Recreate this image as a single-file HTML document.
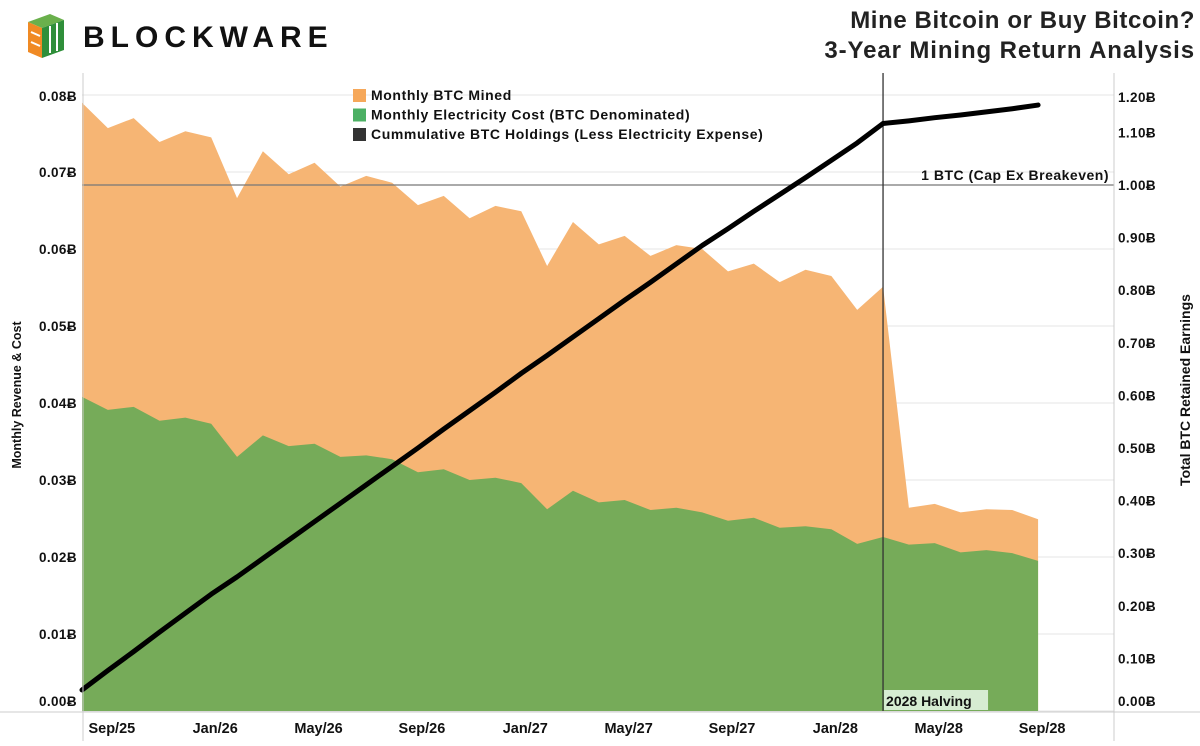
<!DOCTYPE html>
<html><head><meta charset="utf-8">
<style>
html,body{margin:0;padding:0;background:#fff;}
body{width:1200px;height:741px;overflow:hidden;font-family:"Liberation Sans",sans-serif;}
svg text{font-family:"Liberation Sans",sans-serif;font-weight:bold;}
</style></head>
<body>
<svg id="chart" width="1200" height="741" viewBox="0 0 1200 741" xmlns="http://www.w3.org/2000/svg">
  <g>
    <polygon points="28,22 50,14 64,20 42,28" fill="#6ab04c"/>
    <polygon points="28,22 42,28 42,58 28,52" fill="#f08a24"/>
    <polygon points="42,28 64,20 64,50 42,58" fill="#2f8f3a"/>
    <line x1="31" y1="32" x2="40" y2="36" stroke="#fff" stroke-width="2"/>
    <line x1="31" y1="42" x2="40" y2="46" stroke="#fff" stroke-width="2"/>
    <line x1="50" y1="26" x2="50" y2="53" stroke="#fff" stroke-width="2"/>
    <line x1="57" y1="23" x2="57" y2="51" stroke="#fff" stroke-width="2"/>
    <text x="83" y="47" font-size="30" fill="#111" letter-spacing="6">BLOCKWARE</text>
  </g>
  <text x="1195" y="28" font-size="24" fill="#222" text-anchor="end" letter-spacing="0.6">Mine Bitcoin or Buy Bitcoin?</text>
  <text x="1195" y="58" font-size="24" fill="#222" text-anchor="end" letter-spacing="0.9">3-Year Mining Return Analysis</text>
  <g id="plot"></g>
</svg>
<script>
const months = ["Aug/25","Sep/25","Oct/25","Nov/25","Dec/25","Jan/26","Feb/26","Mar/26","Apr/26","May/26","Jun/26","Jul/26","Aug/26","Sep/26","Oct/26","Nov/26","Dec/26","Jan/27","Feb/27","Mar/27","Apr/27","May/27","Jun/27","Jul/27","Aug/27","Sep/27","Oct/27","Nov/27","Dec/27","Jan/28","Feb/28","Mar/28","Apr/28","May/28","Jun/28","Jul/28","Aug/28","Sep/28"];
const btcMined = [0.0790,0.0757,0.0770,0.0739,0.0753,0.0745,0.0666,0.0727,0.0697,0.0712,0.0681,0.0695,0.0686,0.0657,0.0669,0.0640,0.0656,0.0649,0.0578,0.0635,0.0606,0.0617,0.0591,0.0605,0.0600,0.0571,0.0581,0.0557,0.0573,0.0565,0.0521,0.0551,0.0264,0.0269,0.0258,0.0262,0.0261,0.0249];
const electricityCost = [0.0408,0.0391,0.0395,0.0377,0.0381,0.0373,0.0330,0.0358,0.0344,0.0347,0.0330,0.0332,0.0327,0.0310,0.0314,0.0300,0.0303,0.0296,0.0262,0.0286,0.0271,0.0274,0.0261,0.0264,0.0258,0.0247,0.0251,0.0238,0.0240,0.0236,0.0217,0.0226,0.0216,0.0218,0.0206,0.0209,0.0205,0.0195];
const cumulativeHoldings = [0.040,0.077,0.113,0.150,0.186,0.222,0.255,0.290,0.325,0.360,0.395,0.430,0.465,0.500,0.536,0.571,0.606,0.642,0.676,0.711,0.746,0.781,0.815,0.850,0.885,0.917,0.950,0.982,1.014,1.047,1.080,1.117,1.122,1.128,1.133,1.139,1.145,1.152];
const leftTicks = [0,0.01,0.02,0.03,0.04,0.05,0.06,0.07,0.08];
const rightTicks = [0,0.1,0.2,0.3,0.4,0.5,0.6,0.7,0.8,0.9,1.0,1.1,1.2];
const xTickLabels = ["Sep/25","Jan/26","May/26","Sep/26","Jan/27","May/27","Sep/27","Jan/28","May/28","Sep/28"];
const breakevenValue = 1.0;
const halvingMonth = "Mar/28";

const NS = "http://www.w3.org/2000/svg";
const plot = document.getElementById('plot');
const X0 = 82, STEP = 25.84, YB = 711, LEFT_PX = 7700, RIGHT_PX = 526, XR = 1114, YT = 73;
const x = i => X0 + i * STEP;
const yL = v => YB - v * LEFT_PX;
const yR = v => YB - v * RIGHT_PX;
function mk(tag, attrs, parent) {
  const e = document.createElementNS(NS, tag);
  for (const k in attrs) e.setAttribute(k, attrs[k]);
  (parent || plot).appendChild(e);
  return e;
}
leftTicks.forEach(v => {
  const g = mk('line', {x1: X0, x2: XR, y1: yL(v), y2: yL(v), stroke: '#e6e6e6', 'stroke-width': 1});
  
  
});
let d = 'M' + x(0) + ',' + YB;
btcMined.forEach((v, i) => d += ' L' + x(i) + ',' + yL(v));
d += ' L' + x(btcMined.length - 1) + ',' + YB + ' Z';
const oa = mk('path', {d: d, fill: '#f6b574'});


d = 'M' + x(0) + ',' + YB;
electricityCost.forEach((v, i) => d += ' L' + x(i) + ',' + yL(v));
d += ' L' + x(electricityCost.length - 1) + ',' + YB + ' Z';
const ga = mk('path', {d: d, fill: '#76ab59'});


const bl = mk('line', {x1: X0, x2: XR, y1: yR(breakevenValue), y2: yR(breakevenValue), stroke: '#777', 'stroke-width': 1.2});


const bt = mk('text', {x: 1109, y: yR(breakevenValue) - 5, 'font-size': 14, 'text-anchor': 'end', fill: '#111', 'letter-spacing': 0.5});
bt.textContent = '1 BTC (Cap Ex Breakeven)';


const hi = months.indexOf(halvingMonth);
const hl = mk('line', {x1: x(hi), x2: x(hi), y1: YT, y2: YB, stroke: '#333', 'stroke-width': 1.3});


const hb = mk('rect', {x: x(hi) + 1, y: 690, width: 104, height: 20, fill: '#d6ecd2'});


const ht = mk('text', {x: x(hi) + 3, y: 706, 'font-size': 14, fill: '#111'});
ht.textContent = '2028 Halving';


const pts = cumulativeHoldings.map((v, i) => x(i) + ',' + yR(v)).join(' ');
const cl = mk('polyline', {points: pts, fill: 'none', stroke: '#000', 'stroke-width': 5, 'stroke-linejoin': 'round', 'stroke-linecap': 'round'});


const al = mk('line', {x1: X0 + 1, x2: X0 + 1, y1: YT, y2: 741, stroke: '#ccc', 'stroke-width': 1});


const ar = mk('line', {x1: XR, x2: XR, y1: YT, y2: 741, stroke: '#ccc', 'stroke-width': 1});


const ab = mk('line', {x1: 0, x2: 1200, y1: YB + 1, y2: YB + 1, stroke: '#ccc', 'stroke-width': 1});


leftTicks.forEach(v => {
  const yy = Math.max(Math.min(yL(v) + 5, 706), 101);
  const t = mk('text', {x: 77, y: yy, 'font-size': 13.5, 'text-anchor': 'end', fill: '#111', 'letter-spacing': 0.4});
  t.textContent = v.toFixed(2) + '\u0243';
  
  
});
rightTicks.forEach(v => {
  const yy = Math.max(Math.min(yR(v) + 5, 706), 102);
  const t = mk('text', {x: 1118, y: yy, 'font-size': 13.5, fill: '#111', 'letter-spacing': 0.4});
  t.textContent = v.toFixed(2) + '\u0243';
  
  
});
xTickLabels.forEach(lbl => {
  const i = months.indexOf(lbl);
  const t = mk('text', {x: x(i) + 4, y: 733, 'font-size': 14.5, 'text-anchor': 'middle', fill: '#111'});
  t.textContent = lbl;
  
  
});
const lt = mk('text', {x: 21, y: 395, 'font-size': 12.5, 'text-anchor': 'middle', fill: '#111', transform: 'rotate(-90 21 395)'});
lt.textContent = 'Monthly Revenue & Cost';


const rt = mk('text', {x: 1190, y: 390, 'font-size': 14, 'text-anchor': 'middle', fill: '#111', transform: 'rotate(-90 1190 390)'});
rt.textContent = 'Total BTC Retained Earnings';


const legendLabels = ['Monthly BTC Mined', 'Monthly Electricity Cost (BTC Denominated)', 'Cummulative BTC Holdings (Less Electricity Expense)'];
const legendColors = ['#f6a85a', '#4cb064', '#333'];
legendLabels.forEach((lbl, k) => {
  const g = mk('g', {});
  
  
  mk('rect', {x: 353, y: 89 + k * 19.5, width: 13, height: 13, fill: legendColors[k]}, g);
  const t = mk('text', {x: 371, y: 100 + k * 19.5, 'font-size': 14, fill: '#111', 'letter-spacing': 0.6}, g);
  t.textContent = lbl;
});
</script>
</body></html>
